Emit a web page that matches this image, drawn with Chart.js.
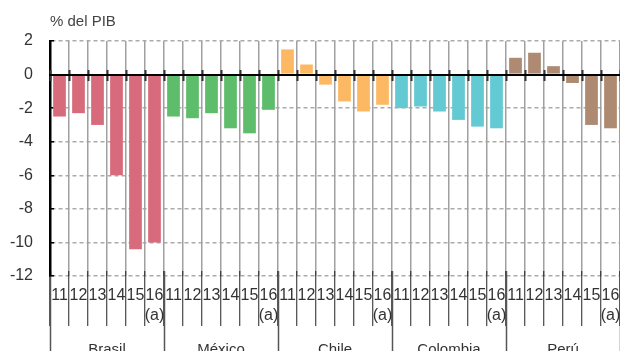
<!DOCTYPE html>
<html>
<head>
<meta charset="utf-8">
<script src="https://cdn.jsdelivr.net/npm/chart.js@4/dist/chart.umd.min.js"></script>
<style>
  html, body { margin: 0; padding: 0; background: #fff; overflow: hidden; }
  #wrap { width: 620px; height: 351px; }
</style>
</head>
<body>
<div id="wrap"><canvas id="c" width="620" height="351"></canvas></div>
<script>
// Saldo fiscal, % del PIB, 2011-2016 (16 = estimación)
const years = ['11', '12', '13', '14', '15', ['16', '(a)']];
const countries = ['Brasil', 'México', 'Chile', 'Colombia', 'Perú'];
const brasil   = [-2.5, -2.3, -3.0, -6.0, -10.4, -10.0];
const mexico   = [-2.5, -2.6, -2.3, -3.2, -3.5, -2.1];
const chile    = [1.5, 0.6, -0.6, -1.6, -2.2, -1.8];
const colombia = [-2.0, -1.9, -2.2, -2.7, -3.1, -3.2];
const peru     = [1.0, 1.3, 0.5, -0.5, -3.0, -3.2];
const countryColors = ['#D86B7B', '#5DBD6B', '#FDB863', '#63C9D2', '#AD8A71'];
const yTicks = { min: -12, max: 2, step: 2 };

const series = [brasil, mexico, chile, colombia, peru];
const labels = [];
const values = [];
const colors = [];
series.forEach((s, i) => {
  s.forEach((v, j) => {
    labels.push(years[j]);
    values.push(v);
    colors.push(countryColors[i]);
  });
});

const FONT = 'Liberation Sans, Arial, Helvetica, sans-serif';
const TEXT = '#333';

new Chart(document.getElementById('c'), {
  type: 'bar',
  data: {
    labels: labels,
    datasets: [{
      data: values,
      backgroundColor: colors,
      borderWidth: 0,
      categoryPercentage: 1,
      barPercentage: 0.67,
      xAxisID: 'x',
      yAxisID: 'y'
    }]
  },
  options: {
    responsive: false,
    animation: false,
    devicePixelRatio: 1,
    layout: { padding: { top: 0, left: 0, right: 0, bottom: 75 } },
    plugins: {
      legend: { display: false },
      tooltip: { enabled: false },
      title: {
        display: true,
        text: '% del PIB',
        align: 'start',
        fullSize: false,
        color: '#444',
        font: { family: FONT, size: 15, weight: 'normal', lineHeight: 1.2 },
        padding: { top: 13, bottom: 10 }
      }
    },
    scales: {
      y: {
        position: 'left',
        min: yTicks.min,
        max: yTicks.max,
        ticks: {
          stepSize: yTicks.step,
          color: TEXT,
          padding: 21,
          font: { family: FONT, size: 16 }
        },
        grid: {
          color: (ctx) => ctx.tick && ctx.tick.value === 0 ? '#000' : '#ababab',
          lineWidth: (ctx) => ctx.tick && ctx.tick.value === 0 ? 2 : 1.5,
          tickLength: -4,
          tickColor: '#000',
          tickWidth: 1.5
        },
        border: {
          display: true,
          color: '#000',
          width: 2.5,
          dash: (ctx) => ctx.tick && ctx.tick.value === 0 ? [] : [4, 3]
        },
        afterFit: (scale) => { scale.width = 50; scale.paddingTop = 0; scale.paddingBottom = 0; }
      },
      // years row, with separators crossing the bottom of the plot
      x: {
        type: 'category',
        position: { y: -11.7 },
        offset: true,
        ticks: {
          autoSkip: false,
          maxRotation: 0,
          minRotation: 0,
          color: TEXT,
          padding: -40,
          font: { family: FONT, size: 16, lineHeight: 1.25 }
        },
        grid: {
          offset: true,
          color: '#a0a0a0',
          lineWidth: 1.5,
          tickLength: 55,
          tickColor: '#222',
          tickWidth: 1
        },
        border: { display: false }
      },
      // country row
      xCountry: {
        type: 'category',
        labels: countries,
        position: { y: -11.7 },
        offset: true,
        ticks: {
          autoSkip: false,
          maxRotation: 0,
          color: TEXT,
          padding: -11,
          font: { family: FONT, size: 15, lineHeight: 1.3 }
        },
        grid: {
          offset: true,
          drawOnChartArea: false,
          tickLength: 80,
          tickColor: '#555',
          tickWidth: 1.5
        },
        border: { display: false }
      },
      // short marks across the zero line
      xMarks: {
        type: 'category',
        position: { y: 0.3 },
        offset: true,
        ticks: { display: false },
        grid: {
          offset: true,
          drawOnChartArea: false,
          tickLength: 11,
          tickColor: '#333',
          tickWidth: 2,
          z: 1
        },
        border: { display: false }
      },
      // zero line drawn over the bars
      xZero: {
        type: 'category',
        position: { y: 0 },
        offset: true,
        ticks: { display: false },
        grid: { display: false, drawTicks: false },
        border: { display: true, color: '#000', width: 2, z: 1 }
      }
    }
  }
});
</script>
</body>
</html>
